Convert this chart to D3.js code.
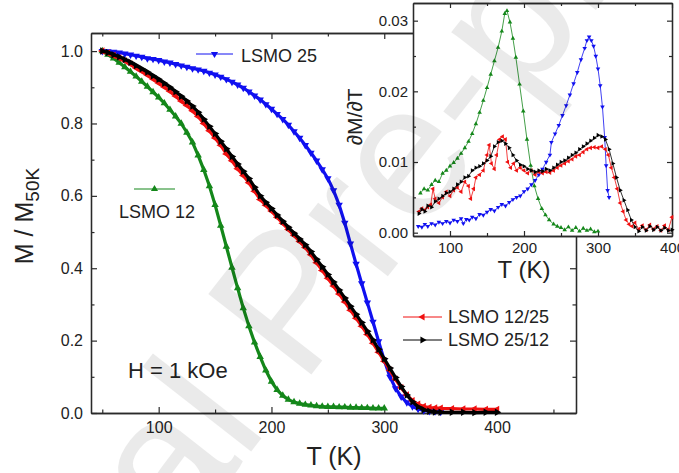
<!DOCTYPE html>
<html>
<head>
<meta charset="utf-8">
<script src="https://cdn.jsdelivr.net/npm/d3@7"></script>
<style>
  body { margin: 0; background: #fff; }
  text { font-family: "Liberation Sans", Arial, sans-serif; }
</style>
</head>
<body>
<div id="chart"></div>
<script>
// Main plot: normalised magnetisation M / M50K versus temperature
var t12 = [50,55,60,65,70,75,80,85,90,95,100,105,110,115,120,125,130,135,140,145,150,155,160,165,170,175,180,185,190,195,200,205,210,215,220,225,230,235,240,245,250,255,260,265,270,275,280,285,290,295,300];
var m12 = [1.000,0.990,0.980,0.968,0.956,0.943,0.930,0.916,0.902,0.887,0.872,0.856,0.838,0.820,0.800,0.775,0.748,0.712,0.672,0.627,0.575,0.518,0.460,0.402,0.345,0.290,0.240,0.195,0.155,0.118,0.087,0.064,0.048,0.037,0.030,0.026,0.023,0.021,0.019,0.018,0.017,0.017,0.016,0.016,0.015,0.015,0.014,0.014,0.013,0.013,0.013];

var t25 = [50,55,60,65,70,75,80,85,90,95,100,105,110,115,120,125,130,135,140,145,150,155,160,165,170,175,180,185,190,195,200,205,210,215,220,225,230,235,240,245,250,255,260,265,270,275,280,285,290,295,300,305,310,315,320,325,330,335,340,345,350];
var m25 = [1.000,0.999,0.998,0.996,0.993,0.990,0.987,0.984,0.980,0.978,0.975,0.971,0.968,0.964,0.960,0.956,0.952,0.949,0.945,0.940,0.935,0.929,0.922,0.915,0.907,0.898,0.888,0.877,0.866,0.853,0.840,0.826,0.812,0.796,0.778,0.760,0.740,0.719,0.697,0.673,0.648,0.615,0.575,0.525,0.468,0.412,0.358,0.305,0.252,0.198,0.146,0.100,0.068,0.045,0.029,0.018,0.011,0.007,0.005,0.004,0.003];

var tBi = [50,55,60,65,70,75,80,85,90,95,100,105,110,115,120,125,130,135,140,145,150,155,160,165,170,175,180,185,190,195,200,205,210,215,220,225,230,235,240,245,250,255,260,265,270,275,280,285,290,295,300,305,310,315,320,325,330,335,340,345,350,360,370,380,390,400];
var m1225 = [1.000,0.995,0.988,0.981,0.973,0.964,0.953,0.944,0.934,0.923,0.912,0.901,0.889,0.876,0.862,0.850,0.835,0.819,0.800,0.780,0.760,0.740,0.716,0.697,0.675,0.656,0.636,0.613,0.590,0.574,0.558,0.541,0.524,0.507,0.491,0.474,0.457,0.437,0.415,0.394,0.372,0.351,0.329,0.307,0.284,0.262,0.240,0.217,0.193,0.168,0.143,0.118,0.093,0.070,0.050,0.034,0.024,0.018,0.015,0.014,0.013,0.012,0.011,0.011,0.010,0.010];
var m2512 = [1.000,0.996,0.990,0.984,0.977,0.969,0.960,0.951,0.942,0.932,0.922,0.911,0.900,0.888,0.875,0.862,0.848,0.831,0.812,0.792,0.772,0.751,0.730,0.709,0.688,0.668,0.648,0.624,0.600,0.582,0.565,0.547,0.530,0.513,0.497,0.481,0.465,0.446,0.425,0.404,0.383,0.362,0.340,0.318,0.295,0.273,0.250,0.226,0.202,0.176,0.150,0.124,0.098,0.073,0.050,0.031,0.017,0.009,0.005,0.003,0.002,0.002,0.002,0.001,0.002,0.002];

// Inset: dM/dT versus temperature
var ti12 = [60,65,70,75,80,85,90,95,100,105,110,115,120,125,130,135,140,145,150,155,160,165,170,174,177,181,185,189,194,199,204,209,214,219,224,229,234,240,245,250,255,260,265,270,275,280,285,290,295,300];
var d12 = [0.0056,0.0062,0.0060,0.0068,0.0074,0.0072,0.0084,0.0088,0.0094,0.0099,0.0105,0.0112,0.0120,0.0129,0.0140,0.0154,0.0170,0.0187,0.0205,0.0224,0.0243,0.0262,0.0285,0.0310,0.0314,0.0298,0.0275,0.0248,0.0210,0.0172,0.0132,0.0095,0.0066,0.0048,0.0034,0.0025,0.0018,0.0012,0.0009,0.0007,0.0004,0.0008,0.0003,0.0007,0.0002,0.0006,0.0003,0.0005,0.0001,0.0002];

var ti25 = [57,62,66,70,75,80,85,90,95,100,105,110,115,118,122,126,130,135,140,145,150,155,160,165,170,175,180,185,190,195,200,205,210,215,220,225,230,235,237,242,247,252,257,262,267,272,277,282,285,288,291,294,297,300,303,306,309,311,313,315];
var d25 = [0.0009,0.0008,0.0012,0.0009,0.0013,0.0011,0.0015,0.0013,0.0016,0.0014,0.0018,0.0016,0.0020,0.0013,0.0019,0.0018,0.0022,0.0020,0.0026,0.0025,0.0029,0.0033,0.0031,0.0036,0.0040,0.0038,0.0043,0.0047,0.0050,0.0052,0.0058,0.0062,0.0068,0.0074,0.0082,0.0090,0.0100,0.0110,0.0128,0.0140,0.0152,0.0166,0.0180,0.0195,0.0211,0.0227,0.0245,0.0261,0.0272,0.0277,0.0272,0.0264,0.0250,0.0232,0.0208,0.0178,0.0135,0.0095,0.0060,0.0050];

var ti1225 = [58,62,66,70,74,77,80,85,90,95,100,105,110,115,120,125,128,132,135,140,145,150,153,156,160,163,167,171,175,178,182,186,190,195,200,205,210,215,220,225,230,235,240,245,250,255,260,265,270,275,280,285,290,295,300,305,310,314,318,322,326,330,334,338,342,346,350,355,360,365,370,375,380,385,390,395,400];
var d1225 = [0.0030,0.0034,0.0032,0.0036,0.0040,0.0062,0.0048,0.0042,0.0050,0.0058,0.0052,0.0060,0.0064,0.0058,0.0072,0.0066,0.0048,0.0062,0.0078,0.0082,0.0088,0.0110,0.0124,0.0098,0.0090,0.0110,0.0132,0.0136,0.0132,0.0100,0.0092,0.0098,0.0088,0.0092,0.0088,0.0084,0.0088,0.0082,0.0086,0.0084,0.0086,0.0085,0.0088,0.0092,0.0095,0.0098,0.0101,0.0104,0.0108,0.0110,0.0114,0.0118,0.0120,0.0121,0.0120,0.0122,0.0118,0.0110,0.0092,0.0078,0.0062,0.0042,0.0030,0.0018,0.0012,0.0009,0.0014,0.0005,0.0010,0.0004,0.0011,0.0005,0.0009,0.0003,0.0010,0.0004,0.0022];

var ti2512 = [58,62,66,70,75,80,85,90,95,100,105,110,115,120,125,130,135,140,145,150,155,160,165,170,175,180,185,190,195,200,205,210,215,220,225,230,235,240,245,250,255,260,265,270,275,280,285,290,295,300,305,310,315,320,325,330,335,340,345,350,355,360,365,370,375,380,385,390,395,400];
var d2512 = [0.0027,0.0033,0.0030,0.0038,0.0036,0.0044,0.0048,0.0052,0.0056,0.0058,0.0062,0.0068,0.0072,0.0078,0.0080,0.0088,0.0092,0.0094,0.0098,0.0102,0.0108,0.0122,0.0128,0.0130,0.0126,0.0120,0.0110,0.0102,0.0096,0.0094,0.0090,0.0088,0.0086,0.0088,0.0087,0.0090,0.0088,0.0092,0.0096,0.0100,0.0102,0.0106,0.0110,0.0113,0.0118,0.0122,0.0126,0.0130,0.0134,0.0138,0.0136,0.0132,0.0118,0.0098,0.0078,0.0060,0.0046,0.0032,0.0018,0.0008,0.0002,0.0008,0.0003,0.0009,0.0004,0.0008,0.0003,0.0007,0.0003,0.0004];

var mainXTicks = [100, 200, 300, 400];
var mainXMinor = [50, 150, 250, 350, 450];
var mainYTicks = [0, 0.2, 0.4, 0.6, 0.8, 1.0];
var mainYMinor = [0.1, 0.3, 0.5, 0.7, 0.9];
var insetXTicks = [100, 200, 300, 400];
var insetXMinor = [150, 250, 350];
var insetYTicks = [0, 0.01, 0.02, 0.03];
var insetYMinor = [0.005, 0.015, 0.025];

var green = "#14871a", blue = "#1010f0", red = "#f01010", black = "#000";
var axisColor = "#2a2a2a";

var svg = d3.select("#chart").append("svg")
  .attr("width", 679)
  .attr("height", 473);

// Scales of the main plot
var x = d3.scaleLinear().domain([40, 470]).range([91, 576]);
var y = d3.scaleLinear().domain([0, 1.05]).range([413, 33]);

// Scales of the inset
var xi = d3.scaleLinear().domain([50, 400]).range([413, 672]);
var yi = d3.scaleLinear().domain([-0.00047, 0.0325]).range([236, 3]);

function styleAxis(g, fontSize) {
  g.select(".domain").attr("stroke", axisColor).attr("stroke-width", 1.3);
  g.selectAll(".tick line").attr("stroke", axisColor).attr("stroke-width", 1.2);
  g.selectAll(".tick text").attr("fill", "#222").style("font-size", fontSize + "px")
    .style("font-family", '"Liberation Sans", Arial, sans-serif');
}

// draw a frame with ticks on the four sides
function frame(xs, ys, xMaj, xMin, yMaj, yMin, fs, yFmt, bigTick, smallTick, pad) {
  var r = xs.range(), ry = ys.range();
  var gb = svg.append("g").attr("transform", "translate(0," + ry[0] + ")")
    .call(d3.axisBottom(xs).tickValues(xMaj).tickSize(-bigTick).tickSizeOuter(0).tickPadding(pad).tickFormat(d3.format("d")));
  styleAxis(gb, fs);
  var gbm = svg.append("g").attr("transform", "translate(0," + ry[0] + ")")
    .call(d3.axisBottom(xs).tickValues(xMin).tickSize(-smallTick).tickSizeOuter(0).tickFormat(""));
  styleAxis(gbm, fs);
  var gt = svg.append("g").attr("transform", "translate(0," + ry[1] + ")")
    .call(d3.axisTop(xs).tickValues(xMaj).tickSize(-bigTick).tickSizeOuter(0).tickFormat(""));
  styleAxis(gt, fs);
  var gtm = svg.append("g").attr("transform", "translate(0," + ry[1] + ")")
    .call(d3.axisTop(xs).tickValues(xMin).tickSize(-smallTick).tickSizeOuter(0).tickFormat(""));
  styleAxis(gtm, fs);
  var gl = svg.append("g").attr("transform", "translate(" + r[0] + ",0)")
    .call(d3.axisLeft(ys).tickValues(yMaj).tickSize(-bigTick).tickSizeOuter(0).tickPadding(pad - 1).tickFormat(d3.format(yFmt)));
  styleAxis(gl, fs);
  var glm = svg.append("g").attr("transform", "translate(" + r[0] + ",0)")
    .call(d3.axisLeft(ys).tickValues(yMin).tickSize(-smallTick).tickSizeOuter(0).tickFormat(""));
  styleAxis(glm, fs);
  var gr = svg.append("g").attr("transform", "translate(" + r[1] + ",0)")
    .call(d3.axisRight(ys).tickValues(yMaj).tickSize(-bigTick).tickSizeOuter(0).tickFormat(""));
  styleAxis(gr, fs);
  var grm = svg.append("g").attr("transform", "translate(" + r[1] + ",0)")
    .call(d3.axisRight(ys).tickValues(yMin).tickSize(-smallTick).tickSizeOuter(0).tickFormat(""));
  styleAxis(grm, fs);
}

// draw a series as a line with triangle markers
function series(xs, ys, ts, vs, color, rot, lw, msize) {
  var pts = ts.map(function(t, i) { return [t, vs[i]]; });
  var line = d3.line()
    .x(function(d) { return xs(d[0]); })
    .y(function(d) { return ys(d[1]); });
  svg.append("path")
    .datum(pts)
    .attr("fill", "none")
    .attr("stroke", color)
    .attr("stroke-width", lw)
    .attr("stroke-linejoin", "round")
    .attr("d", line);
  svg.append("g").selectAll("path")
    .data(pts)
    .enter().append("path")
    .attr("d", d3.symbol().type(d3.symbolTriangle).size(msize))
    .attr("fill", color)
    .attr("transform", function(d) {
      return "translate(" + xs(d[0]) + "," + ys(d[1]) + ") rotate(" + rot + ")";
    });
}

function legendEntry(x0, x1, yy, color, rot, label, tx, ty) {
  svg.append("line").attr("x1", x0).attr("x2", x1).attr("y1", yy).attr("y2", yy)
    .attr("stroke", color).attr("stroke-width", 1);
  svg.append("path")
    .attr("d", d3.symbol().type(d3.symbolTriangle).size(22))
    .attr("fill", color)
    .attr("transform", "translate(" + (x0 + x1) / 2 + "," + yy + ") rotate(" + rot + ")");
  svg.append("text").attr("x", tx).attr("y", ty)
    .style("font-size", "18px").attr("fill", "#222").text(label);
}

// ----- main plot -----
frame(x, y, mainXTicks, mainXMinor, mainYTicks, mainYMinor, 16, ".1f", 6, 3.5, 9);

series(x, y, t12, m12, green, 0, 3.2, 24);
series(x, y, t25, m25, blue, 180, 3.2, 24);
series(x, y, tBi, m1225, red, -90, 3.2, 24);
series(x, y, tBi, m2512, black, 90, 3.2, 24);

legendEntry(196, 233, 54, blue, 180, "LSMO 25", 241, 62);
legendEntry(134, 175, 189, green, 0, "LSMO 12", 119, 218);
legendEntry(403, 442, 317, red, -90, "LSMO 12/25", 448, 323);
legendEntry(403, 442, 340, black, 90, "LSMO 25/12", 448, 346);

svg.append("text").attr("x", 128).attr("y", 378)
  .style("font-size", "22px").attr("fill", "#222").text("H = 1 kOe");

svg.append("text").attr("x", 334).attr("y", 465).attr("text-anchor", "middle")
  .style("font-size", "25px").attr("fill", "#222").text("T (K)");

var yTitle = svg.append("text")
  .attr("transform", "translate(33,216) rotate(-90)")
  .attr("text-anchor", "middle")
  .style("font-size", "25px").attr("fill", "#222");
yTitle.append("tspan").text("M / M");
yTitle.append("tspan").attr("dy", 6).style("font-size", "19px").text("50K");

// ----- inset -----
svg.append("rect").attr("x", 413).attr("y", 0).attr("width", 266).attr("height", 236).attr("fill", "#fff");
frame(xi, yi, insetXTicks, insetXMinor, insetYTicks, insetYMinor, 15, ".2f", 5, 3, 6);

series(xi, yi, ti12, d12, green, 0, 0.8, 9);
series(xi, yi, ti25, d25, blue, 180, 0.8, 9);
series(xi, yi, ti1225, d1225, red, -90, 0.8, 9);
series(xi, yi, ti2512, d2512, black, 90, 0.8, 9);

svg.append("text").attr("x", 524).attr("y", 278).attr("text-anchor", "middle")
  .style("font-size", "24px").attr("fill", "#222").text("T (K)");
svg.append("text")
  .attr("transform", "translate(362,117) rotate(-90)")
  .attr("text-anchor", "middle")
  .style("font-size", "21px").attr("fill", "#222").text("\u2202M/\u2202T");

// faint preprint watermark over the figure
svg.append("text")
  .attr("transform", "translate(285,300) rotate(-52)")
  .attr("text-anchor", "middle")
  .attr("dy", "0.35em")
  .style("font-size", "190px")
  .attr("fill", "#000")
  .attr("opacity", 0.08)
  .text("Journal Pre-proof");
</script>
</body>
</html>
